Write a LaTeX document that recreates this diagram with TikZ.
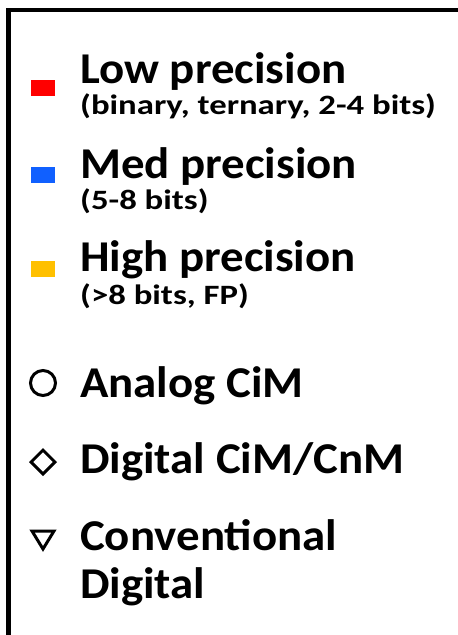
\documentclass[tikz,border=0pt]{standalone}
\usepackage{fontspec}
\setmainfont{Carlito}
\newfontfamily\bigfont[FakeStretch=1.065]{Carlito}
\newfontfamily\smallfont[FakeStretch=1.24]{Carlito}
\usetikzlibrary{shapes.geometric}
\definecolor{lowc}{HTML}{FF0000}
\definecolor{medc}{HTML}{1060FF}
\definecolor{highc}{HTML}{FFC000}
\begin{document}
\begin{tikzpicture}[x=1pt,y=-1pt,
  big/.style={anchor=base west,inner sep=0pt,font=\bigfont\fontsize{44}{48}\selectfont\bfseries},
  small/.style={anchor=base west,inner sep=0pt,font=\smallfont\fontsize{28}{30}\selectfont\bfseries},
  swatch/.style={draw=none,minimum width=24pt,minimum height=16pt,inner sep=0pt},
  symb/.style={draw=black,line width=3pt,inner sep=0pt}]
\useasboundingbox (0,0) rectangle (458,635);
\clip (0,0) rectangle (458,635);
\draw[line width=4.5pt] (8.5,660) -- (8.5,10) -- (480,10);
% precision swatches
\node[swatch,fill=lowc] (sl) at (43,88) {};
\node[big] (tl) at (80,83) {Low precision};
\node[small] (tls) at (80,114) {(binary, ternary, 2-4 bits)};
\node[swatch,fill=medc] (sm) at (43,175) {};
\node[big] (tm) at (80,178) {Med precision};
\node[small] (tms) at (80,209) {(5-8 bits)};
\node[swatch,fill=highc] (sh) at (43,269) {};
\node[big] (th) at (80,271) {High precision};
\node[small] (ths) at (80,304) {(>8 bits, FP)};
% markers
\node[symb,circle,minimum size=25pt] (mc) at (43,383) {};
\node[big] (ta) at (80,397) {Analog CiM};
\node[symb,diamond,minimum size=25pt] (md) at (43,462) {};
\node[big] (td) at (80,473) {Digital CiM/CnM};
\draw[line width=3pt,line join=miter] (32,531) -- (54,531) -- (43,549) -- cycle;
\node[big] (tc) at (80,550) {Conventional};
\node[big] (tc2) at (80,598) {Digital};
\end{tikzpicture}
\end{document}
